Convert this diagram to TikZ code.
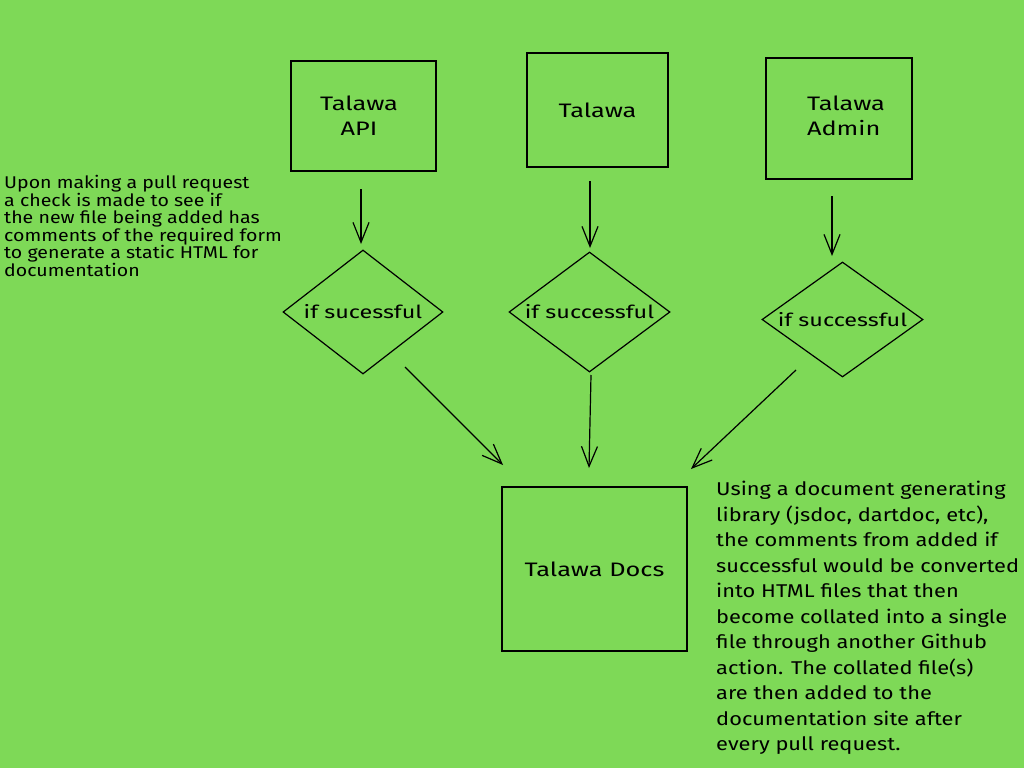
\documentclass[tikz,border=0pt]{standalone}
\usepackage{fontspec}
\setmainfont{Fira Sans}
\newfontfamily\handA[FakeStretch=1.3]{Fira Sans}
\newfontfamily\handB[FakeStretch=1.18]{Fira Sans}
\newfontfamily\handC[FakeStretch=1.15]{Fira Sans}
\usetikzlibrary{shapes.geometric,arrows.meta}
\definecolor{bg}{RGB}{126,217,87}
\tikzset{
  box/.style={draw=black, line width=1.3pt, inner sep=0pt, align=center, font=\handA\fontsize{19.5}{25}\selectfont},
  dia/.style={draw=black, line width=1.2pt, diamond, inner sep=0pt},
  dialabel/.style={font=\handA\fontsize{18}{22}\selectfont, inner sep=0pt},
  conn/.style={draw=black, line width=1.2pt, -{Straight Barb[length=20pt,width=16pt,line width=1.2pt]}},
  note/.style={anchor=north west, align=left, inner sep=0pt}
}
\begin{document}
\begin{tikzpicture}[x=1pt,y=-1pt]
\useasboundingbox[fill=bg] (0,0) rectangle (1024,768);
% top boxes
\node[box, minimum width=145pt, minimum height=110pt] (b1) at (363.5,116) {};
\node[font=\handA\fontsize{19.5}{25}\selectfont, align=center] (l1) at (359,116) {Talawa\\API};
\node[box, minimum width=141pt, minimum height=114pt] (b2) at (597.5,110) {Talawa};
\node[box, minimum width=146pt, minimum height=121pt] (b3) at (839,118.5) {};
\node[font=\handA\fontsize{19.5}{25}\selectfont, align=left] (l3) at (846,116) {Talawa\\Admin};
% diamonds
\node[dia, minimum width=160pt, minimum height=124pt] (d1) at (363,312) {};
\node[dialabel] (t1) at (d1.center) {if sucessful};
\node[dia, minimum width=161pt, minimum height=120pt] (d2) at (589.5,312) {};
\node[dialabel] (t2) at (d2.center) {if successful};
\node[dia, minimum width=161pt, minimum height=115pt] (d3) at (842.5,319.5) {};
\node[dialabel] (t3) at (d3.center) {if successful};
% docs
\node[box, minimum width=185pt, minimum height=164pt] (docs) at (594.5,569) {Talawa Docs};
% arrow endpoints
\coordinate (s1) at (361,189);
\coordinate (e1) at (361,244);
\coordinate (s2) at (590,181);
\coordinate (e2) at (590,248);
\coordinate (s3) at (832,196);
\coordinate (e3) at (832,256);
\coordinate (s4) at (405,367);
\coordinate (e4) at (503,465);
\coordinate (s5) at (591,375);
\coordinate (e5) at (589,468);
\coordinate (s6) at (796,370);
\coordinate (e6) at (691,469);
\draw[conn] (s1) -- (e1);
\draw[conn] (s2) -- (e2);
\draw[conn] (s3) -- (e3);
\draw[conn] (s4) -- (e4);
\draw[conn] (s5) -- (e5);
\draw[conn] (s6) -- (e6);
% notes
\node[note, font=\handC\fontsize{17}{17.6}\selectfont] (n1) at (4,175) {Upon making a pull request\\a check is made to see if\\the new file being added has\\comments of the required form\\to generate a static HTML for\\documentation};
\node[note, font=\handB\fontsize{18.5}{25.5}\selectfont] (n2) at (716,481) {Using a document generating\\library (jsdoc, dartdoc, etc),\\the comments from added if\\successful would be converted\\into HTML files that then\\become collated into a single\\file through another Github\\action. The collated file(s)\\are then added to the\\documentation site after\\every pull request.};
\end{tikzpicture}
\end{document}
